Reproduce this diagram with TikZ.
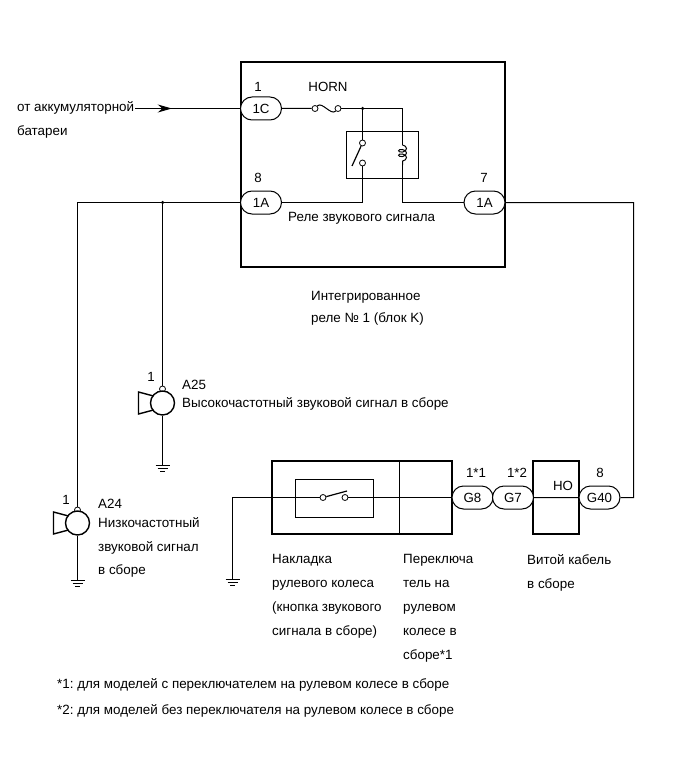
\documentclass[tikz,border=0pt]{standalone}
\usepackage{fontspec}
\setmainfont{Liberation Sans}
\usetikzlibrary{shapes.misc,arrows.meta,decorations.markings,decorations.pathmorphing}
\tikzset{
  conn/.style={draw,rounded rectangle,minimum width=41pt,minimum height=23pt,inner sep=0pt,line width=1pt,fill=white,font=\fontsize{13.3}{15}\selectfont},
  lbl/.style={inner sep=0pt,align=left,anchor=north west,font=\fontsize{13.4}{24}\selectfont\frenchspacing},
  pin/.style={inner sep=0pt,font=\fontsize{13.3}{15}\selectfont},
  box/.style={draw,line width=1.2pt,inner sep=0pt},
  innerbox/.style={draw,line width=1pt,inner sep=0pt},
  term/.style={draw,circle,minimum size=6pt,inner sep=0pt,fill=white,line width=.8pt},
  horncirc/.style={draw,circle,minimum size=24pt,inner sep=0pt,line width=1.4pt,fill=white},
  wire/.style={line width=1pt},
  junc/.style={circle,fill,minimum size=3.5pt,inner sep=0pt}
}
\newcommand{\gnd}[1]{%
  \draw[wire] ([xshift=-7pt]#1) -- ([xshift=7pt]#1);
  \draw[wire] ([xshift=-5pt,yshift=-3pt]#1) -- ([xshift=5pt,yshift=-3pt]#1);
  \draw[wire] ([xshift=-2.5pt,yshift=-6pt]#1) -- ([xshift=2.5pt,yshift=-6pt]#1);
}
\newcommand{\hornsym}[1]{%
  \draw[line width=1.4pt] ([xshift=-9pt,yshift=7pt]#1.center) -- ([xshift=-24pt,yshift=11pt]#1.center)
    -- ([xshift=-24pt,yshift=-11pt]#1.center) -- ([xshift=-9pt,yshift=-7pt]#1.center);
}
\begin{document}
\begin{tikzpicture}[x=1pt,y=-1pt]
\useasboundingbox (0,0) rectangle (691,757);
% integrated relay
\node[box,minimum width=264pt,minimum height=205pt] (relayblock) at (373,164.5) {};
\node[innerbox,minimum width=72pt,minimum height=47pt] (relay) at (382.5,155) {};
\node[conn] (c1c) at (261,108.5) {1C};
\node[conn] (c1al) at (261,202.5) {1A};
\node[conn] (c1ar) at (484.5,202.5) {1A};
\node[pin] at (258,87) {1};
\node[pin] at (258,178) {8};
\node[pin] at (484,178) {7};
\node[pin] (hornlbl) at (328,87) {HORN};
\node[term] (fa) at (315,108.5) {};
\node[term] (fb) at (338,108.5) {};
\node[junc] (jtop) at (362.5,108.5) {};
\node[term] (sa) at (362.5,143) {};
\node[term] (sb) at (362.5,163) {};
\coordinate (coiltop) at (402.5,145);
\coordinate (coilbot) at (402.5,165);
\coordinate (bladeend) at (352,166);
\draw[wire] (c1c) -- (fa);
\draw[wire] (fa) .. controls (322,101) and (331,116) .. (fb);
\draw[wire] (fb) -- (jtop) -- (sa);
\draw[wire] (jtop) -| (coiltop);
\draw[line width=1.2pt] (sa) -- (bladeend);
\draw[wire,decorate,decoration={coil,aspect=.6,segment length=4.5pt,amplitude=4pt}] (coiltop) -- (coilbot);
\draw[wire] (coilbot) |- (c1ar);
\draw[wire] (sb) |- (c1al);
\node[lbl] (relaylbl) at (288,212) {Реле звукового сигнала};
\node[lbl] (blocklbl) at (311,291) {Интегрированное\\[-2pt]реле № 1 (блок K)};
% battery feed
\node[lbl] (batt) at (17,101) {от аккумуляторной\\батареи};
\coordinate (battend) at (135,108.5);
\draw[wire,postaction={decorate},decoration={markings,mark=at position .35 with {\arrow{Stealth[length=14pt,width=8pt]}}}] (battend) -- (c1c);
% horns
\node[junc] (jleft) at (162.5,202.5) {};
\node[term] (a25t) at (162.5,389) {};
\node[horncirc] (a25) at (162.5,403) {};
\coordinate (a25g) at (162.5,465.5);
\node[term] (a24t) at (77.5,510) {};
\node[horncirc] (a24) at (77.5,523) {};
\coordinate (a24g) at (77.5,580.5);
\coordinate (leftcorner) at (77.5,202.5);
\draw[wire] (c1al) -- (leftcorner) -- (a24t);
\draw[wire] (jleft) -- (a25t);
\draw[wire] (a25) -- (a25g);
\draw[wire] (a24) -- (a24g);
\hornsym{a25}
\hornsym{a24}
\gnd{a25g}
\gnd{a24g}
\node[pin] at (151,377) {1};
\node[pin] at (66,500) {1};
\node[lbl] (a25lbl) at (182,380) {A25\\[-6pt]Высокочастотный звуковой сигнал в сборе};
\node[lbl] (a24lbl) at (98,499) {A24\\[-5pt]Низкочастотный\\звуковой сигнал\\[-1pt]в сборе};
% steering wheel
\node[box,minimum width=180pt,minimum height=73pt] (pad) at (362,497.5) {};
\node[innerbox,minimum width=78pt,minimum height=38pt] (padsw) at (334.5,498.5) {};
\draw[line width=1.1pt] (399.5,461) -- (399.5,534);
\node[box,minimum width=46pt,minimum height=73pt] (hobox) at (556,497.5) {};
\node[pin] (holbl) at (563,486) {HO};
\node[conn] (g8) at (472.5,497.5) {G8};
\node[conn] (g7) at (513,497.5) {G7};
\node[conn] (g40) at (599.5,497.5) {G40};
\node[pin] at (476,473) {1*1};
\node[pin] at (517,473) {1*2};
\node[pin] at (600,473) {8};
\node[term] (pa) at (323,497.5) {};
\node[term] (pb) at (345,497.5) {};
\coordinate (pblade) at (347,491);
\coordinate (padg) at (232.5,579.5);
\coordinate (rightcorner) at (633.5,202.5);
\draw[wire] (pa) -| (padg);
\draw[line width=1.2pt] (pa) -- (pblade);
\draw[wire] (pb) -- (g8);
\draw[wire] (g7) -- (g40);
\draw[wire] (g40) -| (rightcorner) -- (c1ar);
\gnd{padg}
\node[lbl] (padlbl) at (272,554) {Накладка\\рулевого колеса\\(кнопка звукового\\сигнала в сборе)};
\node[lbl] (swlbl) at (403,554) {Переключа\\тель на\\рулевом\\колесе в\\сборе*1};
\node[lbl] (cablelbl) at (527,554) {Витой кабель\\в сборе};
% notes
\node[lbl] (note1) at (57,678) {*1: для моделей с переключателем на рулевом колесе в сборе};
\node[lbl] (note2) at (57,704) {*2: для моделей без переключателя на рулевом колесе в сборе};
\end{tikzpicture}
\end{document}
